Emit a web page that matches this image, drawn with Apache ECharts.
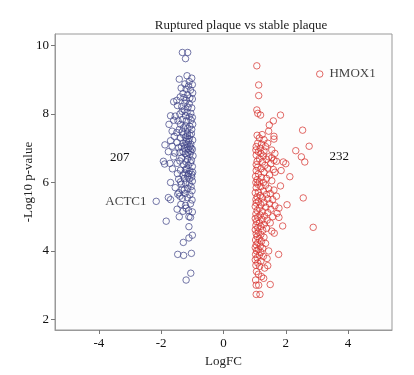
<!DOCTYPE html>
<html lang="en">
<head>
    <meta charset="UTF-8">
    <title>Volcano</title>
    <script src="https://cdn.jsdelivr.net/npm/echarts@6/dist/echarts.min.js"></script>
    <style>
        *{ margin: 0; padding: 0; }
        body{ background-color: #fff; overflow: hidden; }
    </style>
</head>
<body>
<div id="main" style="width:414px;height:375px;"></div>

<script>
    // down-regulated genes [logFC, -log10 p]
    var downGenes = [
        [-1.32,9.80],[-1.15,9.80],[-1.22,9.62],[-1.17,9.12],[-1.02,9.05],[-1.42,9.02],[-1.10,8.95],
        [-1.24,8.88],[-1.00,8.86],[-1.12,8.82],[-1.36,8.76],[-1.20,8.73],[-1.06,8.70],[-0.99,8.62],[-1.30,8.60],[-1.15,8.56],[-1.39,8.50],[-1.27,8.48],[-1.08,8.47],[-1.00,8.44],
        [-1.20,8.40],[-1.60,8.36],[-1.50,8.40],[-1.24,8.32],[-1.10,8.30],[-1.48,8.25],[-1.34,8.22],[-1.14,8.20],[-1.02,8.18],[-1.26,8.12],[-1.33,8.08],[-1.17,8.05],[-1.05,8.02],[-1.40,8.00],
        [-1.70,7.95],[-1.55,7.94],[-1.22,7.95],[-1.10,7.92],[-1.00,7.90],[-1.60,7.82],[-1.46,7.80],[-1.32,7.84],[-1.19,7.80],[-1.04,7.82],[-1.75,7.70],[-1.38,7.70],[-1.22,7.66],[-1.08,7.64],
        [-0.99,7.70],[-1.28,7.60],[-1.15,7.58],[-1.65,7.50],[-1.50,7.46],[-1.33,7.48],[-1.16,7.44],[-1.03,7.42],[-1.42,7.55],
        [-1.58,7.35],[-1.38,7.30],[-1.22,7.32],[-1.10,7.28],[-0.99,7.24],[-1.70,7.22],[-1.49,7.17],[-1.30,7.15],[-1.17,7.10],[-1.05,7.12],[-1.88,7.10],[-1.65,7.06],[-1.44,7.02],
        [-1.26,7.00],[-1.13,6.98],[-1.00,6.97],[-1.35,7.05],[-1.20,7.20],[-1.08,7.38],[-1.28,7.40],
        [-1.77,6.90],[-1.56,6.86],[-1.40,6.88],[-1.23,6.84],[-1.08,6.82],[-0.98,6.78],[-1.60,6.75],[-1.34,6.72],[-1.16,6.68],[-1.03,6.65],[-1.93,6.62],[-1.89,6.54],[-1.72,6.56],
        [-1.49,6.56],[-1.28,6.52],[-1.13,6.50],[-1.00,6.47],[-1.20,6.60],[-1.40,6.63],[-1.05,6.90],
        [-1.64,6.40],[-1.38,6.36],[-1.22,6.38],[-1.08,6.34],[-0.99,6.30],[-1.48,6.26],[-1.30,6.22],[-1.15,6.19],[-1.02,6.16],[-1.70,6.00],[-1.38,6.02],[-1.22,5.99],[-1.10,5.96],
        [-1.00,6.04],[-1.26,6.12],[-1.44,6.10],[-1.12,6.26],[-1.35,5.95],
        [-1.55,5.85],[-1.33,5.80],[-1.15,5.83],[-1.01,5.76],[-1.43,5.70],[-1.23,5.68],[-1.08,5.64],[-1.47,5.66],[-1.77,5.56],[-1.70,5.50],[-1.32,5.54],[-1.16,5.56],[-1.01,5.49],
        [-1.26,5.78],[-1.40,5.60],
        [-1.37,5.36],[-1.22,5.33],[-1.06,5.38],[-1.49,5.22],[-1.30,5.16],[-1.12,5.18],[-1.00,5.14],[-1.42,5.00],[-1.11,5.00],[-1.06,4.98],[-1.20,5.25],
        [-1.84,4.87],[-1.11,4.71],[-1.11,4.38],[-1.00,4.46],[-1.29,4.25],[-1.47,3.90],[-1.28,3.87],[-1.03,3.93],[-1.05,3.35],[-1.20,3.15],
        [-1.04,7.00],[-1.14,6.88],[-1.18,6.40],[-1.06,6.58],[-1.12,7.20],[-1.02,7.55],[-1.24,7.10],[-1.10,6.10],[-1.18,6.80],[-1.02,6.24],[-1.30,6.90],[-1.24,6.28],
        [-1.08,7.05],[-1.16,7.36],[-1.04,5.88]
    ];

    // up-regulated genes [logFC, -log10 p]
    var upGenes = [
        [1.07,9.41],[1.13,8.85],[1.13,8.54],[1.07,8.12],[1.10,8.02],[1.19,7.97],[1.83,7.97],[1.60,7.80],[1.47,7.68],[2.54,7.53],[1.45,7.50],[1.24,7.40],
        [1.08,7.38],[1.62,7.35],[1.62,7.27],[1.15,7.30],[1.30,7.25],[1.10,7.15],[1.22,7.12],[1.35,7.05],[2.75,7.06],[2.32,6.93],[2.50,6.75],[2.61,6.60],
        [1.92,6.60],[2.00,6.55],[1.85,6.35],[2.13,6.17],[1.83,5.90],[2.56,5.55],[2.04,5.35],[1.78,5.25],[1.90,4.73],[2.88,4.69],[1.77,3.90],[1.50,3.02],
        [1.05,3.00],[1.13,3.00],[1.05,2.73],[1.17,2.73],[1.29,3.20],[1.32,3.50],[1.42,3.57],[1.63,4.52],
        [1.04,6.95],[1.12,6.90],[1.20,6.85],[1.05,6.80],[1.28,6.78],[1.45,6.75],[1.55,6.72],[1.62,6.65],[1.38,6.68],[1.15,6.70],[1.08,6.62],[1.25,6.60],
        [1.52,6.55],[1.70,6.62],[1.05,6.52],[1.33,6.50],
        [1.10,6.45],[1.20,6.40],[1.42,6.42],[1.60,6.38],[1.05,6.35],[1.30,6.30],[1.65,6.30],[1.12,6.25],[1.48,6.22],[1.03,6.18],[1.22,6.15],[1.38,6.12],
        [1.08,6.08],[1.55,6.05],[1.15,6.02],[1.28,6.00],[1.04,6.00],
        [1.10,5.95],[1.35,5.92],[1.20,5.88],[1.05,5.85],[1.45,5.82],[1.62,5.78],[1.28,5.75],[1.12,5.72],[1.02,5.70],[1.50,5.68],[1.38,5.65],[1.18,5.62],
        [1.70,5.60],[1.08,5.58],[1.25,5.55],[1.42,5.52],[1.04,5.50],[1.58,5.50],
        [1.12,5.45],[1.30,5.42],[1.05,5.40],[1.48,5.38],[1.20,5.35],[1.65,5.32],[1.02,5.30],[1.36,5.28],[1.15,5.25],[1.52,5.22],[1.08,5.18],[1.25,5.15],
        [1.42,5.12],[1.72,5.10],[1.04,5.08],[1.18,5.05],[1.32,5.02],[1.58,5.00],[1.10,4.98],[1.78,4.98],
        [1.02,4.95],[1.24,4.92],[1.40,4.90],[1.06,4.86],[1.15,4.82],[1.50,4.82],[1.30,4.78],[1.04,4.75],[1.20,4.72],[1.10,4.68],[1.38,4.66],[1.02,4.62],
        [1.26,4.60],[1.55,4.58],[1.12,4.55],[1.05,4.50],[1.20,4.48],
        [1.08,4.42],[1.30,4.40],[1.15,4.36],[1.03,4.32],[1.22,4.28],[1.10,4.24],[1.35,4.22],[1.05,4.18],[1.18,4.14],[1.02,4.10],[1.26,4.08],[1.12,4.04],
        [1.45,4.00],[1.06,4.00],[1.20,3.96],
        [1.03,3.90],[1.15,3.88],[1.28,3.84],[1.08,3.80],[1.40,3.78],[1.02,3.74],[1.20,3.70],[1.10,3.65],[1.04,3.58],[1.16,3.55],[1.06,3.40],[1.12,3.32],
        [1.22,3.25],[1.03,3.15],
        [1.05,7.05],[1.18,7.00],[1.42,7.15],[1.55,6.95],[1.30,6.92],[1.65,6.85]
    ];

    // labelled genes
    var geneNames = ['ACTC1', 'HMOX1'];
    var geneFC = [-2.16, 3.09];
    var geneP = [5.45, 9.17];

    // counts shown beside each cluster
    var countText = ['207', '232'];
    var countPos = [[-3.33, 6.72], [3.72, 6.75]];

    var xTicks = [-4, -2, 0, 2, 4];
    var yTicks = [2, 4, 6, 8, 10];

    var blue = '#3d4186';
    var red = '#d7312c';
    var font = 'Liberation Serif';

    var downData = downGenes.slice();
    var upData = upGenes.slice();
    for (var i = 0; i < geneNames.length; i++) {
        var item = {
            value: [geneFC[i], geneP[i]],
            label: {
                show: true,
                formatter: geneNames[i],
                position: geneFC[i] < 0 ? 'left' : 'right',
                distance: 6,
                color: '#111',
                fontSize: 13,
                fontFamily: font
            }
        };
        if (geneFC[i] < 0) downData.push(item); else upData.push(item);
    }

    var myChart = echarts.init(document.getElementById('main'));
    var option = {
        animation: false,
        title: {
            text: 'Ruptured plaque vs stable plaque',
            left: 236,
            textAlign: 'center',
            top: 14,
            textStyle: { color: '#222', fontSize: 13, fontWeight: 'normal', fontFamily: font }
        },
        grid: {
            left: 55, right: 22, top: 34, bottom: 45,
            show: true, borderColor: '#999', borderWidth: 1, backgroundColor: '#fdfdfd'
        },
        xAxis: {
            type: 'value',
            min: -5.41, max: 5.41,
            name: 'LogFC',
            nameLocation: 'middle',
            nameGap: 20,
            nameTextStyle: { color: '#222', fontSize: 13, fontFamily: font },
            axisLine: { show: true, onZero: false, lineStyle: { color: '#999' } },
            axisTick: { show: true, customValues: xTicks, length: 4, lineStyle: { color: '#777' } },
            axisLabel: { customValues: xTicks, color: '#111', fontSize: 13, fontFamily: font, margin: 7 },
            splitLine: { show: false }
        },
        yAxis: {
            type: 'value',
            min: 1.69, max: 10.34,
            name: '-Log10 p-value',
            nameLocation: 'middle',
            nameGap: 20,
            nameMoveOverlap: false,
            nameTextStyle: { color: '#222', fontSize: 13, fontFamily: font },
            axisLine: { show: true, onZero: false, lineStyle: { color: '#999' } },
            axisTick: { show: true, customValues: yTicks, length: 4, lineStyle: { color: '#777' } },
            axisLabel: { customValues: yTicks, color: '#111', fontSize: 13, fontFamily: font, margin: 6 },
            splitLine: { show: false }
        },
        series: [
            {
                type: 'scatter',
                data: downData,
                symbol: 'circle',
                symbolSize: 6.5,
                itemStyle: { color: 'rgba(0,0,0,0)', borderColor: blue, borderWidth: 0.9 },
                markPoint: {
                    symbol: 'circle', symbolSize: 0,
                    label: { show: true, formatter: countText[0], color: '#111', fontSize: 13, fontFamily: font },
                    data: [{ coord: countPos[0] }]
                }
            },
            {
                type: 'scatter',
                data: upData,
                symbol: 'circle',
                symbolSize: 6.5,
                itemStyle: { color: 'rgba(0,0,0,0)', borderColor: red, borderWidth: 0.9 },
                markPoint: {
                    symbol: 'circle', symbolSize: 0,
                    label: { show: true, formatter: countText[1], color: '#111', fontSize: 13, fontFamily: font },
                    data: [{ coord: countPos[1] }]
                }
            }
        ]
    };
    myChart.setOption(option);
</script>
</body>
</html>
